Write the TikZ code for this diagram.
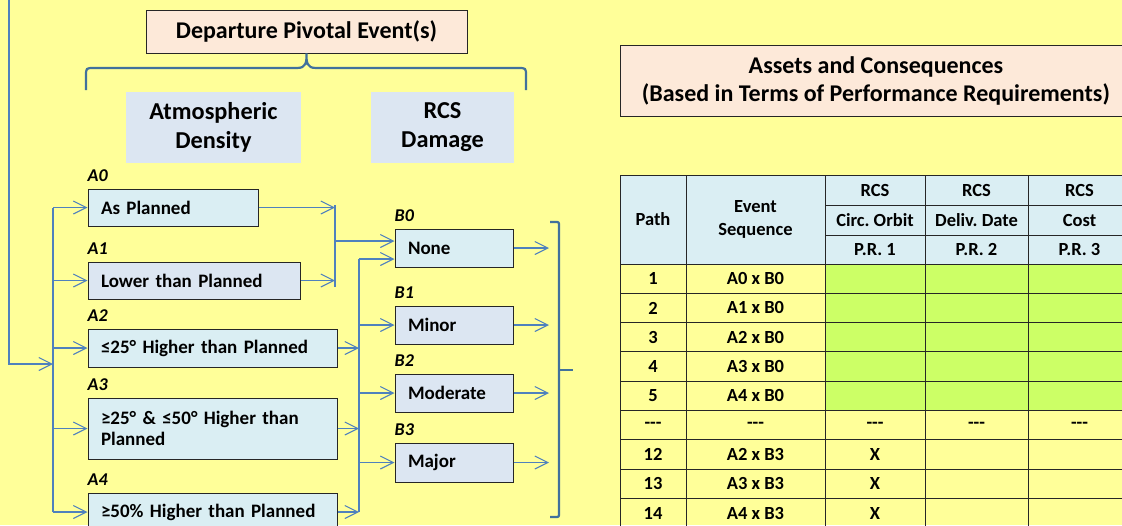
\documentclass[tikz,border=0pt]{standalone}
\usepackage{fontspec}
\setmainfont{Carlito}
\frenchspacing
\usetikzlibrary{arrows.meta,positioning,calc}
\definecolor{EDPage}{HTML}{FFFF99}
\definecolor{EDPeach}{HTML}{FDE9D9}
\definecolor{EDCyan}{HTML}{DAEEF3}
\definecolor{EDSteel}{HTML}{DCE6F2}
\definecolor{EDLink}{HTML}{4F81BD}
\definecolor{EDBrace}{HTML}{41719C}
\definecolor{EDGreen}{HTML}{CCFF66}

\begin{document}
\begin{tikzpicture}[x=1pt,y=-1pt,
  titlebox/.style={draw=black!85,fill=EDPeach,line width=1pt,align=center,inner sep=0pt,font=\bfseries\fontsize{24}{28}\selectfont},
  groupbox/.style={fill=EDSteel,minimum width=#1,minimum height=71pt,align=center,inner sep=0pt,font=\bfseries\fontsize{24.3}{29}\selectfont},
  eventbox/.style={draw=black!85,line width=1pt,fill=EDCyan,minimum height=37pt,inner xsep=13pt,inner ysep=2pt,align=left,text width=#1,font=\bfseries\fontsize{19}{21}\selectfont},
  steel/.style={fill=EDSteel},
  tag/.style={font=\bfseries\itshape\fontsize{18}{20}\selectfont,inner sep=0pt,anchor=base west},
  link/.style={EDLink,line width=1.1pt},
  arr/.style={link,-{Straight Barb[length=13pt,width=13pt]}},
  curly/.style={EDBrace,line width=2.2pt},
  rule/.style={black!85,line width=1pt},
  cell/.style={font=\bfseries\fontsize{18.5}{23}\selectfont,inner sep=0pt,align=center},
]
\useasboundingbox (0,0) rectangle (1122,525);
\fill[EDPage] (0,0) rectangle (1122,525);

% pivotal events and their groups
\node[titlebox,minimum width=321pt,minimum height=43pt] (dep) at (306.5,31.5) {Departure Pivotal Event(s)};
\node[groupbox=175pt] (atm) at (213.5,127.5) {Atmospheric\\Density};
\node[groupbox=143pt] (dmg) at (442.5,127.5) {RCS\\Damage};
\draw[curly] (86,90) -- (86,76) .. controls (86,68) .. (94,68) -- (297,68)
  .. controls (306.5,68) and (306.5,62) .. (dep.south)
  .. controls (306.5,62) and (306.5,68) .. (316,68) -- (518,68)
  .. controls (526,68) .. (526,76) -- (526,90);

% density branches
\node[eventbox=144pt] (a0) at (173,207.5) {As Planned};
\node[eventbox=186pt,steel] (a1) at (194,280.5) {Lower than Planned};
\node[eventbox=223pt,minimum height=38pt] (a2) at (212.5,348) {≤25° Higher than Planned};
\node[eventbox=223pt,minimum height=61pt] (a3) at (212.5,428.5) {≥25° \& ≤50° Higher than\\Planned};
\node[eventbox=223pt,minimum height=38pt] (a4) at (212.5,512) {≥50\% Higher than Planned};
\foreach \e/\t in {a0/A0,a1/A1,a2/A2,a3/A3,a4/A4}
  \node[tag] (tag\e) at ([yshift=7pt]\e.north west) {\t};

% damage branches
\node[eventbox=92pt,minimum height=38pt] (b0) at (454,248) {None};
\node[eventbox=92pt,minimum height=38pt,steel] (b1) at (454,325) {Minor};
\node[eventbox=92pt,minimum height=38pt,steel] (b2) at (454,393) {Moderate};
\node[eventbox=92pt,minimum height=39pt,steel] (b3) at (454,462.5) {Major};
\foreach \e/\t in {b0/B0,b1/B1,b2/B2,b3/B3}
  \node[tag] (tag\e) at ([yshift=7pt]\e.north west) {\t};

% connectors
\coordinate (feed) at (9,0);
\coordinate (bus) at (53,364);
\coordinate (mergeA) at (335,205);
\coordinate (mergeB) at (335,287);
\coordinate (bus2) at (359,259);
\coordinate (fan) at (549,0);
\coordinate (b0in) at ([yshift=7pt]b0.west);
\coordinate (b0low) at ([yshift=-11pt]b0.west);
\draw[arr] (feed) |- (bus);
\draw[link] (bus |- a0.west) -- (bus |- a4.west);
\foreach \e in {a0,a1,a2,a3,a4}
  \draw[arr] (bus |- \e.west) -- (\e.west);
\foreach \e in {a0,a1}
  \draw[arr] (\e.east) -- (\e.east -| mergeA);
\draw[link] (mergeA) -- (mergeB);
\draw[arr] (mergeA |- b0in) -- (b0in);
\draw[link] (bus2) -- (bus2 |- a4.east);
\draw[arr] (bus2) -- (b0low);
\foreach \e in {a2,a3,a4}
  \draw[arr] (\e.east) -- (\e.east -| bus2);
\foreach \e in {b1,b2,b3}
  \draw[arr] (bus2 |- \e.west) -- (\e.west);
\foreach \e in {b0,b1,b2,b3}
  \draw[arr] (\e.east) -- (\e.east -| fan);
\draw[curly] (550,222) -- (555,222) .. controls (559,222) .. (559,226) -- (559,513)
  .. controls (559,517) .. (555,517) -- (550,517);
\draw[curly] (559,370) -- (573,370);

% assets table
\node[titlebox,minimum width=511pt,minimum height=71pt,font=\bfseries\fontsize{24}{28}\selectfont] (assets) at (876,80.5)
  {Assets and Consequences\\(Based in Terms of Performance Requirements)};
\fill[EDCyan] (620.5,175) rectangle (1131,264);
\fill[EDGreen] (825,264) rectangle (1131,411);
\foreach \y in {175,264,293.3,322.6,351.9,381.2,410.5,439.8,469.1,498.4,527.7}
  \draw[rule] (620.5,\y) -- (1131,\y);
\foreach \y in {205,235}
  \draw[rule] (825,\y) -- (1131,\y);
\foreach \x in {620.5,686,825,925,1028}
  \draw[rule] (\x,175) -- (\x,530);
\node[cell] (hpath) at (653,219.5) {Path};
\node[cell] (hseq) at (755.5,219.5) {Event\\Sequence};
\foreach \x/\n/\k [count=\c] in {875/Circ. Orbit/1,976.5/Deliv. Date/2,1079.5/Cost/3} {
  \node[cell] (hrcs\c) at (\x,190) {RCS};
  \node[cell] (hreq\c) at (\x,220) {\n};
  \node[cell] (hpr\c) at (\x,249.5) {P.R. \k};
}
\foreach \p/\s/\u/\v/\w [count=\r] in {1/A0 x B0/{}/{}/{},2/A1 x B0/{}/{}/{},3/A2 x B0/{}/{}/{},
    4/A3 x B0/{}/{}/{},5/A4 x B0/{}/{}/{},-{}-{}-/-{}-{}-/-{}-{}-/-{}-{}-/-{}-{}-,
    12/A2 x B3/X/{}/{},13/A3 x B3/X/{}/{},14/A4 x B3/X/{}/{}} {
  \node[cell] (path\r) at (653,{264+29.3*(\r-0.5)}) {\p};
  \node[cell] (seq\r) at (755.5,{264+29.3*(\r-0.5)}) {\s};
  \node[cell] (pra\r) at (875,{264+29.3*(\r-0.5)}) {\u};
  \node[cell] (prb\r) at (976.5,{264+29.3*(\r-0.5)}) {\v};
  \node[cell] (prc\r) at (1079.5,{264+29.3*(\r-0.5)}) {\w};
}
\end{tikzpicture}
\end{document}
